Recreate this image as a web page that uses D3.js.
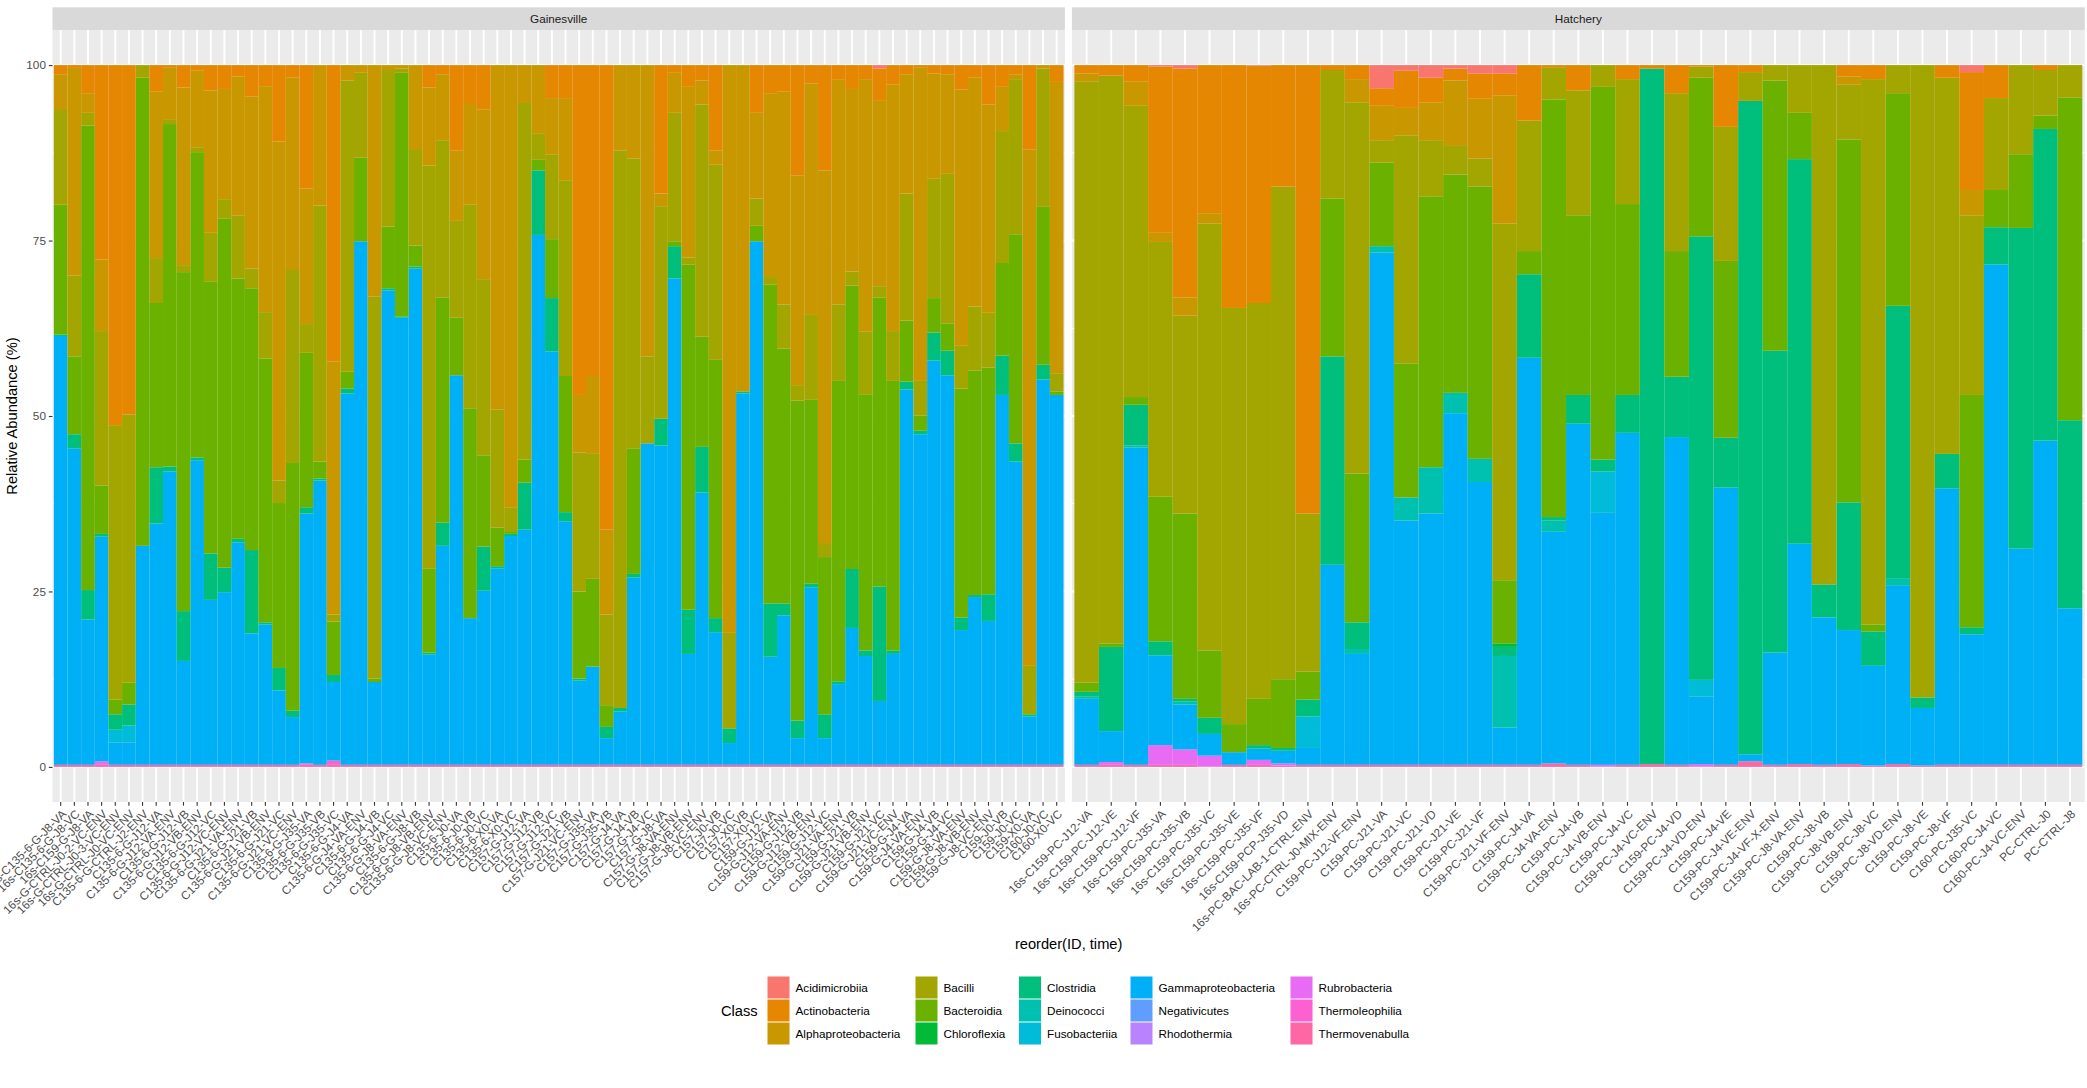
<!DOCTYPE html>
<html><head><meta charset="utf-8">
<script src="https://cdn.jsdelivr.net/npm/d3@7"></script>
<style>
html,body{margin:0;padding:0;background:#fff;}
svg{display:block;font-family:"Liberation Sans",Arial,Helvetica,sans-serif;}
</style>
</head><body>
<svg id="chart" width="2087" height="1088"></svg>
<script>
// ---------------- DATA ----------------
const facetNames = ["Gainesville", "Hatchery"];

const gainesvilleIDs = [
"16s-C135-6-G-J8-VA","16s-C135-6-G-J8-VC","16s-C159-G-J8-VA","16s-G-CTRL-J0-2-VC-ENV","16s-G-CTRL-J0-3-VC-ENV",
"16s-G-CTRL-J0-VC-ENV","C135-6-G-CTRL-J2-ENV","C135-6-G-J12-VA","C135-6-G-J12-VA-ENV","C135-6-G-J12-VB",
"C135-6-G-J12-VB-ENV","C135-6-G-J12-VC","C135-6-G-J12-VC-ENV","C135-6-G-J21-VA-ENV","C135-6-G-J21-VB",
"C135-6-G-J21-VB-ENV","C135-6-G-J21-VC","C135-6-G-J21-VC-ENV","C135-6-G-J35-VA","C135-6-G-J35-VB",
"C135-6-G-J35-VC","C135-6-G-J4-VA","C135-6-G-J4-VA-ENV","C135-6-G-J4-VB","C135-6-G-J4-VC",
"C135-6-G-J8-VA-ENV","C135-6-G-J8-VB","C135-6-G-J8-VB-ENV","C135-6-G-J8-VC-ENV","C135-6-J0-VA",
"C135-6-J0-VB","C135-6-J0-VC","C135-6-X0-VA","C135-6-X0-VC","C157-G-J12-VA",
"C157-G-J12-VB","C157-G-J12-VC","C157-G-J21-VB","C157-G-J21-VC-ENV","C157-G-J35-VA",
"C157-G-J35-VB","C157-G-J4-VA","C157-G-J4-VB","C157-G-J4-VC","C157-G-J8-VA",
"C157-G-J8-VA-ENV","C157-G-J8-VB-ENV","C157-G-J8-VC-ENV","C157-J0-VB","C157-J0-VC",
"C157-X0-VB","C157-X0-VC","C159-G-J12-VA","C159-G-J12-VA-ENV","C159-G-J12-VB",
"C159-G-J12-VB-ENV","C159-G-J12-VC","C159-G-J21-VA-ENV","C159-G-J21-VB","C159-G-J21-VB-ENV",
"C159-G-J21-VC","C159-G-J21-VC-ENV","C159-G-J4-VA","C159-G-J4-VA-ENV","C159-G-J4-VB",
"C159-G-J4-VC","C159-G-J8-VA-ENV","C159-G-J8-VB-ENV","C159-G-J8-VC-ENV","C159-J0-VB",
"C159-J0-VC","C159-X0-VA","C160-J0-VC","C160-X0-VC"
];

const hatcheryIDs = [
"16s-C159-PC-J12-VA","16s-C159-PC-J12-VE","16s-C159-PC-J12-VF","16s-C159-PC-J35-VA","16s-C159-PC-J35-VB",
"16s-C159-PC-J35-VC","16s-C159-PC-J35-VE","16s-C159-PC-J35-VF","16s-C159-PCP-J35-VD","16s-PC-BAC-LAB-1-CTRL-ENV",
"16s-PC-CTRL-J0-MIX-ENV","C159-PC-J12-VF-ENV","C159-PC-J21-VA","C159-PC-J21-VC","C159-PC-J21-VD",
"C159-PC-J21-VE","C159-PC-J21-VF","C159-PC-J21-VF-ENV","C159-PC-J4-VA","C159-PC-J4-VA-ENV",
"C159-PC-J4-VB","C159-PC-J4-VB-ENV","C159-PC-J4-VC","C159-PC-J4-VC-ENV","C159-PC-J4-VD",
"C159-PC-J4-VD-ENV","C159-PC-J4-VE","C159-PC-J4-VE-ENV","C159-PC-J4-VF-X-ENV","C159-PC-J8-VA-ENV",
"C159-PC-J8-VB","C159-PC-J8-VB-ENV","C159-PC-J8-VC","C159-PC-J8-VD-ENV","C159-PC-J8-VE",
"C159-PC-J8-VF","C160-PC-J35-VC","C160-PC-J4-VC","C160-PC-J4-VC-ENV","PC-CTRL-J0",
"PC-CTRL-J8"
];

const classNames = ["Acidimicrobiia","Actinobacteria","Alphaproteobacteria","Bacilli","Bacteroidia",
"Chloroflexia","Clostridia","Deinococci","Fusobacteriia","Gammaproteobacteria",
"Negativicutes","Rhodothermia","Rubrobacteria","Thermoleophilia","Thermovenabulla"];

const classColors = ["#F8766D","#E58700","#C99800","#A3A500","#6BB100",
"#00BA38","#00BF7D","#00C0AF","#00BCD8","#00B0F6",
"#619CFF","#B983FF","#E76BF3","#FD61D1","#FF67A4"];

const yTickValues = [0, 25, 50, 75, 100];

// Relative abundance (%) per class: 74 Gainesville samples then 41 Hatchery samples
const acidimicrobiia = [
0,0,0,0,0,0,0,0,0,0, 0,0,0,0,0,0,0,0,0,0, 0,0,0,0,0,0,0,0,0,0, 0,0,0,0,0,0,0,0,0,0,
0,0,0,0,0,0,0,0,0,0, 0,0,0,0,0,0,0,0,0,0, .5,0,0,0,0,0,0,0,0,0, 0,0,0,0,
0,0,0,.2,.5,0,0,.1,0,0, 0,0,3.3,.8,1.8,.5,1.2,1.2,0,0, 0,0,0,0,0,0,0,0,0,0, 0,0,0,0,0,0,1.0,0,0,0, 0];
const actinobacteria = [
1.3,.4,4.0,27.7,51.3,49.8,0,3.8,.3,3.2, .8,3.6,3.4,1.6,4.5,3.0,10.9,1.8,17.6,0,
42.2,0,0,0,0,0,0,3.2,1.3,12.2, 5.4,6.3,0,0,0,0,4.7,4.7,47.0,44.3,
66.2,0,0,0,18.3,1.1,3.1,2.2,12.2,0, 0,6.8,4.0,3.8,15.7,2.6,15.0,2.1,3.4,2.0,
4.6,2.8,1.3,.3,1.2,1.3,3.5,1.8,5.6,3.1, 1.3,12.0,0,2.4,
1.2,1.5,2.3,23.7,32.6,21.1,34.6,33.8,17.3,63.9, .7,2.0,2.5,5.3,3.5,1.7,3.6,3.1,7.9,.3,
3.6,0,2.0,.5,4.0,.2,8.8,1.0,0,0, 0,1.6,2.0,0,0,1.8,16.8,4.7,0,.7, 0];
const alphaproteobacteria = [
5.1,29.6,2.8,10.2,0,0,0,23.7,7.4,25.3, 10.9,20.3,15.7,19.8,24.5,32.2,48.3,27.4,19.3,20.0,
36.1,2.2,1.1,33.0,.7,.5,12.1,11.1,9.4,10.0, 14.5,24.2,49.1,63.0,5.4,9.7,8.0,11.7,8.2,11.1,
12.1,12.2,13.3,41.5,1.8,5.7,24.3,3.4,2.0,80.9, 46.5,12.2,26.2,30.3,29.9,33.0,53.1,32.0,26.0,36.0,
26.4,35.1,17.0,44.7,15.0,14.2,36.5,32.6,29.7,6.3, .7,73.6,.5,41.5,
1.1,0,3.5,1.3,2.6,1.5,0,0,0,0, 0,3.3,4.9,3.9,5.4,9.2,8.5,18.3,0,0,
0,0,0,0,0,0,0,0,0,0, 0,1.2,0,0,0,0,3.6,0,0,0, 0];
const bacilli = [
13.5,11.5,1.8,22.0,39.1,38.2,1.8,6.4,.7,1.0, .7,6.9,2.8,9.0,2.8,6.6,3.2,27.5,4.1,36.5,
1.0,41.5,12.1,54.4,22.3,.6,13.6,57.4,22.4,13.8, 29.0,25.1,16.8,3.4,50.8,3.8,12.1,27.9,19.8,17.8,
12.9,79.4,41.3,12.4,30.3,18.3,1.0,33.1,27.8,13.6, 0,3.9,1.1,6.3,2.2,12.1,2.0,10.9,2.0,8.9,
1.6,7.1,18.1,4.9,17.0,21.3,6.1,9.1,7.8,18.8, 22.1,6.9,19.7,2.6,
85.7,80.9,41.5,36.3,28.2,60.8,59.3,56.4,70.2,22.5, 18.3,52.9,3.2,32.5,8.0,4.2,4.0,50.8,18.6,4.6,
17.8,3.1,17.8,0,22.5,1.6,19.1,4.1,2.2,6.8, 74.0,7.8,77.7,4.0,90.1,53.6,25.6,13.1,12.7,6.5, 4.6];
const bacteroidia = [
18.5,11.1,66.2,6.9,2.1,3.1,66.7,23.4,48.8,48.3, 43.5,38.8,49.7,37.1,37.3,37.6,23.5,35.3,22.0,2.4,
7.6,2.4,11.9,.5,8.8,34.7,3.0,12.0,32.1,8.2, 29.9,13.0,5.5,.4,3.3,1.5,8.4,19.4,12.4,12.5,
3.1,0,17.9,0,0,.7,49.2,15.7,36.8,0, 0,2.2,45.4,36.3,45.6,26.2,22.4,42.8,40.4,36.5,
41.2,38.4,8.7,2.2,4.9,3.9,32.6,32.0,32.3,13.2, 29.8,0,22.5,.5,
1.3,.5,1.1,20.6,26.4,9.6,4.0,6.6,9.8,4.0, 22.5,21.2,11.9,19.1,38.6,31.1,38.8,9.0,3.3,59.5,
25.6,53.1,27.2,0,17.9,22.6,25.2,0,38.5,6.6, 0,51.7,1.0,30.3,0,0,33.1,5.3,10.5,1.9, 46.0];
const chloroflexia = [
0,0,0,0,0,0,0,0,0,0, 0,0,0,0,0,0,0,0,0,0, 0,0,0,0,0,0,0,0,0,0, 0,0,0,0,0,0,0,0,0,0,
0,0,0,0,0,0,0,0,0,0, 0,0,0,0,0,0,0,0,0,0, 0,0,0,0,0,0,0,0,0,0, 0,0,0,0,
0,0,0,0,0,0,0,0,0,0, 0,0,0,0,0,0,0,.5,0,0, 0,0,0,0,0,0,0,0,0,0, 0,0,0,0,0,0,0,0,0,0, 0];
const clostridia = [
.2,2.0,4.2,.4,2.2,3.0,0,8.0,.7,7.1, .4,6.6,3.5,.5,11.9,.3,3.2,.9,.9,.3,
1.0,.7,0,0,.3,.2,.3,.3,3.3,0, 0,6.3,.3,.3,6.7,9.2,7.6,1.3,.3,0,
1.6,.5,.5,0,3.8,4.6,6.3,6.5,2.0,2.1, .3,0,7.6,1.7,2.5,.5,3.4,.4,8.4,.8,
16.3,.5,1.1,.5,4.0,3.5,1.8,.3,3.8,5.6, 2.6,.3,2.1,0,
.7,12.0,5.8,2.0,.4,2.3,0,.5,.4,2.4, 29.7,3.8,0,0,0,0,0,1.3,11.9,.5,
4.1,1.7,5.4,99.1,8.6,63.2,7.1,93.1,43.0,54.8, 4.7,18.2,4.9,38.9,1.5,4.9,1.0,5.3,45.7,44.4, 26.8];
const deinococci = [
0,0,0,0,0,0,0,0,0,0, 0,0,0,0,0,0,0,0,0,0, 0,0,0,0,0,0,0,0,0,0, 0,0,0,0,0,0,0,0,0,0,
0,0,0,0,0,0,0,0,0,0, 0,0,0,0,0,0,0,0,0,0, 0,0,0,0,0,0,0,0,0,0, 0,0,0,0,
.3,0,.3,0,.4,0,0,0,0,0, 0,.7,.9,3.3,6.6,2.9,3.3,10.2,0,1.6,
0,0,0,0,0,0,0,0,0,0, 0,0,0,1.0,0,0,0,0,0,0, 0];
const fusobacteriia = [
0,0,0,0,1.8,2.4,0,0,0,0, 0,0,0,0,0,0,0,0,0,0, 0,0,0,0,0,0,0,0,0,0, 0,0,0,0,0,0,0,0,0,0,
0,0,0,0,0,0,0,0,0,0, 0,0,0,0,0,0,0,0,0,0, 0,0,0,0,0,0,0,0,0,0, 0,0,0,0,
0,0,0,0,0,0,0,0,0,4.5, 0,0,0,0,0,0,0,0,0,0,
0,5.9,0,0,0,2.4,0,0,0,0, 0,0,0,0,0,0,0,0,0,0, 0];
const gammaproteobacteria = [
61.1,45.1,20.7,32.0,3.2,3.2,31.2,34.4,41.8,14.8, 43.4,23.5,24.6,31.7,18.7,20.0,10.6,6.8,35.6,40.5,
11.2,52.9,74.6,11.8,67.6,63.7,70.7,15.7,31.2,55.5, 20.9,24.8,28.0,32.6,33.5,75.5,58.9,34.7,12.0,14.0,
3.8,7.6,26.7,45.8,45.5,69.3,15.8,38.8,18.9,3.1, 52.9,74.6,15.4,21.3,3.8,25.3,3.8,11.5,19.5,15.5,
9.1,15.8,53.5,47.1,57.6,55.5,19.2,23.9,20.5,52.7, 43.2,6.9,54.9,52.7,
9.4,4.4,45.2,12.8,6.4,3.1,1.8,1.6,1.8,2.4, 28.5,15.8,73.0,34.8,35.8,50.1,40.3,5.3,58.0,33.0,
48.6,35.9,47.3,0,46.7,9.6,39.5,1.0,16.0,31.4, 21.0,19.1,14.2,25.4,8.2,39.4,18.6,71.3,30.8,46.2, 22.3];
const negativicutes = [
0,0,0,0,0,0,0,0,0,0, 0,0,0,0,0,0,0,0,0,0, 0,0,0,0,0,0,0,0,0,0, 0,0,0,0,0,0,0,0,0,0,
0,0,0,0,0,0,0,0,0,0, 0,0,0,0,0,0,0,0,0,0, 0,0,0,0,0,0,0,0,0,0, 0,0,0,0,
0,0,0,0,0,0,0,0,0,0, 0,0,0,0,0,0,0,0,0,0, 0,0,0,0,0,0,0,0,0,0, 0,0,0,0,0,0,0,0,0,0, 0];
const rhodothermia = [
0,0,0,0,0,0,0,0,0,0, 0,0,0,0,0,0,0,0,0,0, 0,0,0,0,0,0,0,0,0,0, 0,0,0,0,0,0,0,0,0,0,
0,0,0,0,0,0,0,0,0,0, 0,0,0,0,0,0,0,0,0,0, 0,0,0,0,0,0,0,0,0,0, 0,0,0,0,
0,0,0,0,0,0,0,0,0,0, 0,0,0,0,0,0,0,0,0,0, 0,0,0,0,0,0,0,0,0,0, 0,0,0,0,0,0,0,0,0,0, 0];
const rubrobacteria = [
0,0,0,.5,0,0,0,0,0,0, 0,0,0,0,0,0,0,0,.2,0, 0,0,0,0,0,0,0,0,0,0, 0,0,0,0,0,0,0,0,0,0,
0,0,0,0,0,0,0,0,0,0, 0,0,0,0,0,0,0,0,0,0, 0,0,0,0,0,0,0,0,0,0, 0,0,0,0,
0,.4,0,2.8,2.2,1.5,0,.7,.3,0, 0,0,0,0,0,0,0,0,0,0,
0,.2,0,0,0,.3,0,0,0,0, 0,0,0,0,0,0,0,0,0,0, 0];
const thermoleophilia = [
0,0,0,0,0,0,0,0,0,0, 0,0,0,0,0,0,0,0,0,0, .6,0,0,0,0,0,0,0,0,0, 0,0,0,0,0,0,0,0,0,0,
0,0,0,0,0,0,0,0,0,0, 0,0,0,0,0,0,0,0,0,0, 0,0,0,0,0,0,0,0,0,0, 0,0,0,0,
0,0,0,0,0,0,0,0,0,0, 0,0,0,0,0,0,0,0,0,0, 0,0,0,0,0,0,0,0,0,0, 0,0,0,0,0,0,0,0,0,0, 0];
const thermovenabulla = [
.3,.3,.3,.3,.3,.3,.3,.3,.3,.3, .3,.3,.3,.3,.3,.3,.3,.3,.3,.3, .3,.3,.3,.3,.3,.3,.3,.3,.3,.3,
.3,.3,.3,.3,.3,.3,.3,.3,.3,.3, .3,.3,.3,.3,.3,.3,.3,.3,.3,.3, .3,.3,.3,.3,.3,.3,.3,.3,.3,.3,
.3,.3,.3,.3,.3,.3,.3,.3,.3,.3, .3,.3,.3,.3,
.3,.3,.3,.3,.3,.1,.3,.3,.2,.3, .3,.3,.3,.3,.3,.3,.3,.3,.3,.5,
.3,.1,.3,.4,.3,.1,.3,.8,.3,.4, .3,.4,.2,.4,.2,.3,.3,.3,.3,.3, .3];

const classSeries = [acidimicrobiia, actinobacteria, alphaproteobacteria, bacilli, bacteroidia,
  chloroflexia, clostridia, deinococci, fusobacteriia, gammaproteobacteria,
  negativicutes, rhodothermia, rubrobacteria, thermoleophilia, thermovenabulla];

// ---------------- DRAW ----------------
const svg = d3.select("#chart");
svg.append("rect").attr("width", 2087).attr("height", 1088).attr("fill", "#ffffff");

const panelTop = 30, panelBottom = 802;
const y = d3.scaleLinear().domain([-5, 105]).range([panelBottom, panelTop]);
const color = d3.scaleOrdinal().domain(classNames).range(classColors);

const panels = [
  { name: facetNames[0], ids: gainesvilleIDs, offset: 0, range: [52.5, 1064.9] },
  { name: facetNames[1], ids: hatcheryIDs, offset: gainesvilleIDs.length, range: [1071.9, 2084.75] }
];

const stack = d3.stack().keys(classNames.slice().reverse());

panels.forEach((p, pi) => {
  const x = d3.scaleBand().domain(p.ids).range(p.range).paddingInner(0).paddingOuter(0.1);
  const g = svg.append("g");
  const w = p.range[1] - p.range[0];

  g.append("rect").attr("x", p.range[0]).attr("y", panelTop).attr("width", w)
    .attr("height", panelBottom - panelTop).attr("fill", "#EBEBEB");
  g.selectAll(".hminor").data([12.5, 37.5, 62.5, 87.5]).enter().append("line")
    .attr("x1", p.range[0]).attr("x2", p.range[1])
    .attr("y1", d => y(d)).attr("y2", d => y(d))
    .attr("stroke", "#ffffff").attr("stroke-width", 0.95);
  g.selectAll(".hmajor").data(yTickValues).enter().append("line")
    .attr("x1", p.range[0]).attr("x2", p.range[1])
    .attr("y1", d => y(d)).attr("y2", d => y(d))
    .attr("stroke", "#ffffff").attr("stroke-width", 1.9);
  g.selectAll(".vmajor").data(p.ids).enter().append("line")
    .attr("x1", d => x(d) + x.bandwidth() / 2).attr("x2", d => x(d) + x.bandwidth() / 2)
    .attr("y1", panelTop).attr("y2", panelBottom)
    .attr("stroke", "#ffffff").attr("stroke-width", 1.9);

  const rows = p.ids.map((id, i) => {
    const r = { id: id };
    classNames.forEach((c, k) => { r[c] = classSeries[k][p.offset + i]; });
    return r;
  });
  const layers = stack(rows);
  layers.forEach(layer => {
    g.append("g").attr("fill", color(layer.key))
      .selectAll("rect").data(layer.filter(d => d[1] - d[0] > 0)).enter().append("rect")
      .attr("x", d => x(d.data.id))
      .attr("width", x.bandwidth())
      .attr("y", d => y(d[1]))
      .attr("height", d => y(d[0]) - y(d[1]));
  });

  g.append("rect").attr("x", p.range[0]).attr("y", 7.3).attr("width", w)
    .attr("height", panelTop - 7.3).attr("fill", "#D9D9D9");
  g.append("text").attr("x", p.range[0] + w / 2).attr("y", (7.3 + panelTop) / 2)
    .attr("dy", "0.35em").attr("text-anchor", "middle")
    .attr("font-size", "11.73px").attr("fill", "#1A1A1A").text(p.name);

  const ax = g.append("g").attr("transform", `translate(0,${panelBottom})`)
    .call(d3.axisBottom(x).tickSize(3.67).tickPadding(2.93));
  ax.select(".domain").remove();
  ax.selectAll(".tick line").attr("stroke", "#333333").attr("stroke-width", 1.1);
  ax.selectAll(".tick text")
    .attr("y", null).attr("dy", "0.75em").attr("x", 0)
    .attr("transform", "translate(0,6.6) rotate(-45)")
    .attr("text-anchor", "end")
    .attr("fill", "#4D4D4D").attr("font-size", "11.73px")
    .attr("font-family", "'Liberation Sans',Arial,Helvetica,sans-serif");

  if (pi === 0) {
    const ay = g.append("g").attr("transform", `translate(${p.range[0]},0)`)
      .call(d3.axisLeft(y).tickValues(yTickValues).tickSize(3.67).tickPadding(2.93));
    ay.select(".domain").remove();
    ay.selectAll(".tick line").attr("stroke", "#333333").attr("stroke-width", 1.1);
    ay.selectAll(".tick text").attr("fill", "#4D4D4D").attr("font-size", "11.73px")
      .attr("font-family", "'Liberation Sans',Arial,Helvetica,sans-serif");
  }
});

svg.append("text").attr("x", (52.5 + 2084.75) / 2).attr("y", 949)
  .attr("text-anchor", "middle").attr("font-size", "14.67px").attr("fill", "#000")
  .text("reorder(ID, time)");
svg.append("text").attr("transform", `translate(16.5,${(panelTop + panelBottom) / 2}) rotate(-90)`)
  .attr("text-anchor", "middle").attr("font-size", "14.67px").attr("fill", "#000")
  .text("Relative Abundance (%)");

const legendKeyX = [767, 915, 1018.5, 1130, 1290];
const legendTop = 976, keySize = 23;
const lg = svg.append("g");
lg.append("text").attr("x", 721).attr("y", legendTop + keySize * 1.5).attr("dy", "0.35em")
  .attr("font-size", "14.67px").attr("fill", "#000").text("Class");
classNames.forEach((c, k) => {
  const col = Math.floor(k / 3), row = k % 3;
  const kx = legendKeyX[col], ky = legendTop + row * keySize;
  lg.append("rect").attr("x", kx).attr("y", ky).attr("width", keySize).attr("height", keySize)
    .attr("fill", "#ffffff");
  lg.append("rect").attr("x", kx + 0.5).attr("y", ky + 0.5).attr("width", keySize - 1).attr("height", keySize - 1)
    .attr("fill", color(c));
  lg.append("text").attr("x", kx + keySize + 5.5).attr("y", ky + keySize / 2).attr("dy", "0.35em")
    .attr("font-size", "11.73px").attr("fill", "#000").text(c);
});
</script>
</body></html>
